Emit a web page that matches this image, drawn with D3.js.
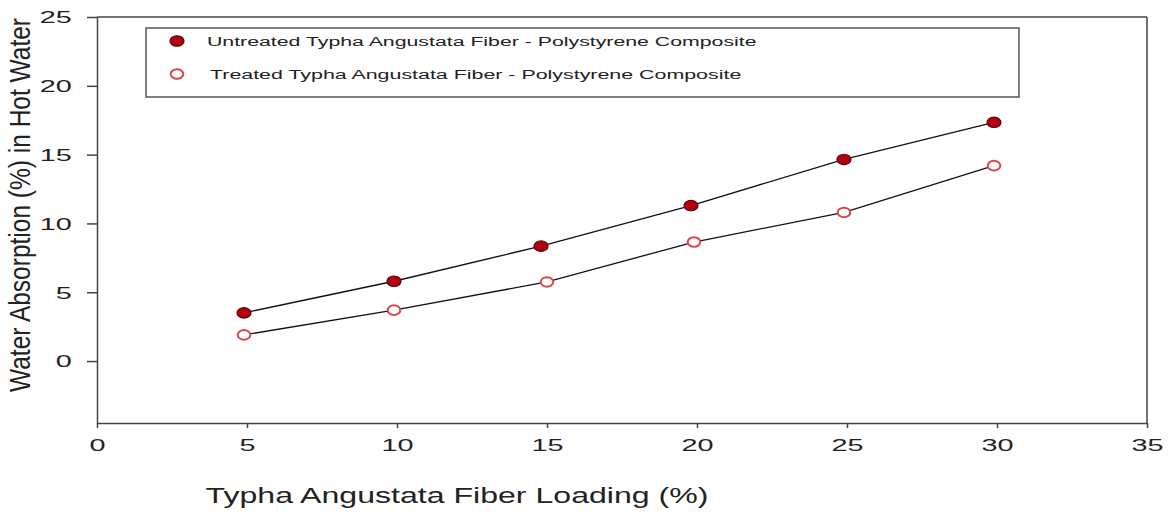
<!DOCTYPE html>
<html>
<head>
<meta charset="utf-8">
<script src="https://cdn.jsdelivr.net/npm/d3@7"></script>
<style>
  body { margin: 0; background: #fff; }
  svg { font-family: "Liberation Sans", Arial, sans-serif; }
</style>
</head>
<body>
<svg class="svgChart"></svg>
<script>
// chart data
const loadingUntreated = [4.9, 9.9, 14.8, 19.8, 24.9, 29.9];
const absorptionUntreated = [3.5, 5.8, 8.35, 11.3, 14.65, 17.35];
const loadingTreated = [4.9, 9.9, 15.0, 19.9, 24.9, 29.9];
const absorptionTreated = [1.9, 3.7, 5.75, 8.65, 10.8, 14.2];
const xTicks = [0, 5, 10, 15, 20, 25, 30, 35];
const yTicks = [0, 5, 10, 15, 20, 25];
const seriesNames = [
  'Untreated Typha Angustata Fiber - Polystyrene Composite',
  'Treated Typha Angustata Fiber - Polystyrene Composite'
];

const margin = { top: 17, right: 21, bottom: 89, left: 97 };
const width = 1168 - margin.left - margin.right;
const height = 512 - margin.top - margin.bottom;
const axisColor = '#444';

const svg = d3.select('.svgChart')
  .attr('width', 1168)
  .attr('height', 512);

const g = svg.append('g')
  .attr('transform', `translate(${margin.left}, ${margin.top})`);

const xScale = d3.scaleLinear().domain([0, 35]).range([0, width]);
const yScale = d3.scaleLinear().domain([-4.5, 25]).range([height, 0]);

// stretch text horizontally to a target width (picture is widened)
const fitWidth = (sel, target) => {
  const len = sel.node().getComputedTextLength();
  return target / len;
};

// top and right frame lines
g.append('line')
  .attr('x1', 0).attr('x2', width)
  .attr('y1', 0).attr('y2', 0)
  .attr('stroke', axisColor).attr('stroke-width', 1.5);
g.append('line')
  .attr('x1', width).attr('x2', width)
  .attr('y1', 0).attr('y2', height)
  .attr('stroke', axisColor).attr('stroke-width', 1.5);

// x axis
const xAxis = g.append('g')
  .attr('class', 'xAxis')
  .attr('transform', `translate(0, ${height})`)
  .call(d3.axisBottom(xScale).tickValues(xTicks).tickSize(5).tickSizeOuter(0));
xAxis.select('.domain').attr('stroke', axisColor).attr('stroke-width', 1.5);
xAxis.selectAll('.tick line').attr('stroke', axisColor).attr('stroke-width', 1.5);
xAxis.selectAll('.tick text')
  .attr('y', 28.5).attr('dy', 0)
  .attr('font-size', 16)
  .attr('fill', '#222')
  .attr('transform', 'scale(1.8,1)');

// y axis
const yAxis = g.append('g')
  .attr('class', 'yAxis')
  .call(d3.axisLeft(yScale).tickValues(yTicks).tickSize(10).tickSizeOuter(0));
yAxis.select('.domain').attr('stroke', axisColor).attr('stroke-width', 1.5);
yAxis.selectAll('.tick line').attr('stroke', axisColor).attr('stroke-width', 1.5);
yAxis.selectAll('.tick text')
  .attr('x', -14).attr('dy', '0.36em')
  .attr('font-size', 16)
  .attr('fill', '#222')
  .attr('transform', 'scale(1.8,1)');

// axis titles
const xTitle = svg.append('text')
  .attr('font-size', 22)
  .attr('fill', '#222')
  .attr('text-anchor', 'middle')
  .text('Typha Angustata Fiber Loading (%)');
xTitle.attr('transform', `translate(457, 503) scale(${fitWidth(xTitle, 503)},1)`);

const yTitle = svg.append('text')
  .attr('font-size', 24)
  .attr('fill', '#222')
  .attr('text-anchor', 'middle')
  .text('Water Absorption (%) in Hot Water');
yTitle.attr('transform', 'translate(30, 205) scale(1.25,1) rotate(-90)');
yTitle.attr('textLength', 374).attr('lengthAdjust', 'spacingAndGlyphs');

// lines
const line = d3.line()
  .x(d => xScale(d[0]))
  .y(d => yScale(d[1]));

const untreated = d3.zip(loadingUntreated, absorptionUntreated);
const treated = d3.zip(loadingTreated, absorptionTreated);

g.append('path')
  .datum(untreated)
  .attr('d', line)
  .attr('fill', 'none')
  .attr('stroke', '#111')
  .attr('stroke-width', 1.3);
g.append('path')
  .datum(treated)
  .attr('d', line)
  .attr('fill', 'none')
  .attr('stroke', '#111')
  .attr('stroke-width', 1.3);

const filledMarker = s => s
  .attr('rx', 7).attr('ry', 5.2)
  .attr('fill', '#b3000f')
  .attr('stroke', '#5a0008')
  .attr('stroke-width', 1.2);
const openMarker = s => s
  .attr('rx', 6.3).attr('ry', 4.8)
  .attr('fill', '#fff')
  .attr('stroke', '#d8454b')
  .attr('stroke-width', 2);

g.selectAll('.ptUntreated')
  .data(untreated)
  .enter()
  .append('ellipse')
    .attr('class', 'ptUntreated')
    .attr('cx', d => xScale(d[0]))
    .attr('cy', d => yScale(d[1]))
    .call(filledMarker);

g.selectAll('.ptTreated')
  .data(treated)
  .enter()
  .append('ellipse')
    .attr('class', 'ptTreated')
    .attr('cx', d => xScale(d[0]))
    .attr('cy', d => yScale(d[1]))
    .call(openMarker);

// legend
const legend = svg.append('g').attr('class', 'legend');
legend.append('rect')
  .attr('x', 146).attr('y', 28)
  .attr('width', 873).attr('height', 69)
  .attr('fill', '#fff')
  .attr('stroke', '#555')
  .attr('stroke-width', 1.5);

legend.append('ellipse')
  .attr('cx', 177).attr('cy', 41)
  .call(filledMarker);
legend.append('ellipse')
  .attr('cx', 177).attr('cy', 74)
  .call(openMarker);

const legendTargets = [[207, 46, 550], [210, 79, 532]];
seriesNames.forEach((name, i) => {
  const t = legend.append('text')
    .attr('font-size', 13.5)
    .attr('fill', '#222')
    .text(name);
  const [lx, ly, lw] = legendTargets[i];
  t.attr('transform', `translate(${lx}, ${ly}) scale(${fitWidth(t, lw)},1)`);
});
</script>
</body>
</html>
